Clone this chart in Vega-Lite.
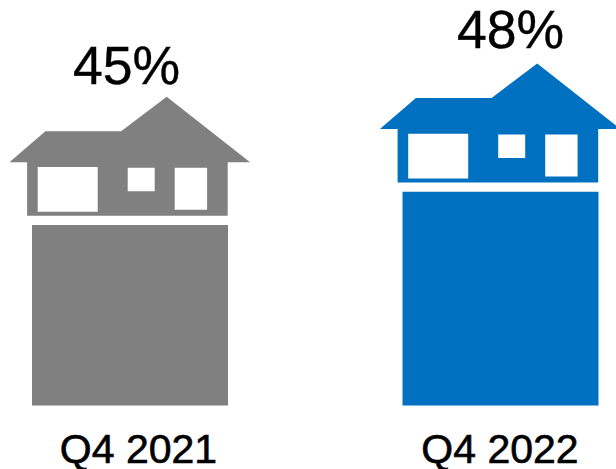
{
  "$schema": "https://vega.github.io/schema/vega-lite/v6.json",
  "width": 616, "height": 469, "padding": 0,
  "autosize": {"type": "none"},
  "background": "white",
  "view": {"stroke": null},
  "data": {"values": [
    {"quarter": "Q4 2021", "share": 45, "label": "45%"},
    {"quarter": "Q4 2022", "share": 48, "label": "48%"}
  ]},
  "encoding": {
    "x": {"field": "quarter", "type": "nominal", "axis": null,
      "scale": {"type": "point", "padding": 0, "domain": ["Q4 2021", "Q4 2022"], "range": [130, 500.5]}},
    "color": {"field": "quarter", "type": "nominal", "legend": null,
      "scale": {"domain": ["Q4 2021", "Q4 2022"], "range": ["#808080", "#0070C0"]}}
  },
  "layer": [
    {"mark": {"type": "bar", "width": 196},
     "encoding": {
       "y": {"field": "share", "type": "quantitative", "axis": null,
         "scale": {"domain": [23.02, 65.27], "zero": false, "nice": false}},
       "y2": {"datum": 28.74}
     }},
    {"mark": {"type": "point", "filled": true, "opacity": 1, "size": 40000, "strokeWidth": 0, "clip": false,
      "shape": "M-1.206,-0.627L-0.846,-0.937L-0.089,-0.937L0.367,-1.283L1.201,-0.627L0.977,-0.627L0.977,-0.093L-1.029,-0.093L-1.029,-0.627ZM-0.923,-0.58L-0.923,-0.133L-0.323,-0.133L-0.323,-0.58ZM-0.023,-0.573L-0.023,-0.337L0.247,-0.337L0.247,-0.573ZM0.447,-0.573L0.447,-0.153L0.771,-0.153L0.771,-0.573Z"},
     "encoding": {
       "y": {"field": "share", "type": "quantitative"}
     }},
    {"transform": [{"filter": "datum.quarter === 'Q4 2021'"}],
     "mark": {"type": "text", "font": "Liberation Sans", "fontSize": 53.5, "baseline": "alphabetic", "align": "center", "dx": -3.5, "dy": -141, "stroke": "#000000", "strokeWidth": 0.4},
     "encoding": {"y": {"field": "share", "type": "quantitative"}, "text": {"field": "label"}, "color": {"value": "#000000"}}},
    {"transform": [{"filter": "datum.quarter === 'Q4 2022'"}],
     "mark": {"type": "text", "font": "Liberation Sans", "fontSize": 53.5, "baseline": "alphabetic", "align": "center", "dx": 10, "dy": -143.7, "stroke": "#000000", "strokeWidth": 0.4},
     "encoding": {"y": {"field": "share", "type": "quantitative"}, "text": {"field": "label"}, "color": {"value": "#000000"}}},
    {"transform": [{"filter": "datum.quarter === 'Q4 2021'"}],
     "mark": {"type": "text", "font": "Liberation Sans", "fontSize": 41, "baseline": "alphabetic", "align": "center", "dx": 8.5, "stroke": "#000000", "strokeWidth": 0.6},
     "encoding": {"y": {"datum": 23.56}, "text": {"field": "quarter"}, "color": {"value": "#000000"}}},
    {"transform": [{"filter": "datum.quarter === 'Q4 2022'"}],
     "mark": {"type": "text", "font": "Liberation Sans", "fontSize": 41, "baseline": "alphabetic", "align": "center", "dx": -0.5, "stroke": "#000000", "strokeWidth": 0.6},
     "encoding": {"y": {"datum": 23.56}, "text": {"field": "quarter"}, "color": {"value": "#000000"}}}
  ]
}
